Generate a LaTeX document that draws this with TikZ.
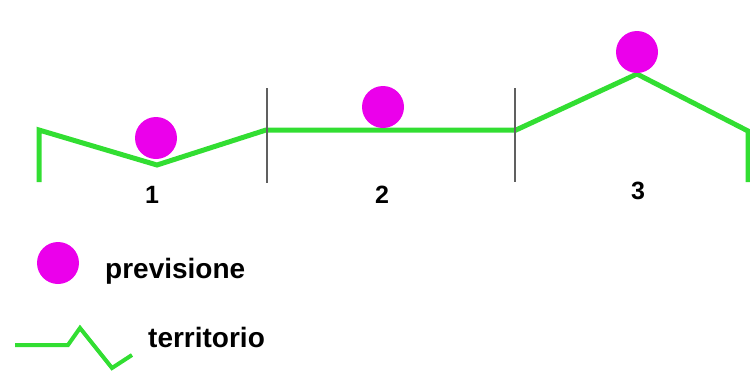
\documentclass[tikz,border=0pt]{standalone}
\usepackage{fontspec}
\setmainfont{Liberation Sans}
\usepackage{xcolor}
\usepackage{tikz}
\usetikzlibrary{positioning}

\definecolor{prevcol}{RGB}{235,0,235}
\definecolor{terrcol}{RGB}{50,222,50}

\begin{document}
\begin{tikzpicture}[
  x=1pt, y=-1pt,
  dot/.style={circle, fill=prevcol, minimum size=42pt, inner sep=0pt},
  terrain/.style={draw=terrcol, line width=5pt, line join=miter},
  divider/.style={draw=gray!75!black, line width=1.6pt},
  num/.style={anchor=base, inner sep=0pt, font=\fontsize{25}{30}\selectfont\bfseries},
  legend/.style={anchor=base west, inner sep=0pt, font=\fontsize{28}{34}\selectfont\bfseries}
]
\useasboundingbox (0,0) rectangle (750,376);

% terrain profile
\coordinate (t0) at (39,182);
\coordinate (t1) at (39,130);
\coordinate (t2) at (157,165);
\coordinate (t3) at (266,130);
\coordinate (t4) at (516,130);
\coordinate (t5) at (637,74);
\coordinate (t6) at (748,131);
\coordinate (t7) at (748,182);
\draw[terrain] (t0) -- (t1) -- (t2) -- (t3) -- (t4) -- (t5) -- (t6) -- (t7);

% zone dividers
\coordinate (d1top) at (267,88);
\coordinate (d1bot) at (267,183);
\coordinate (d2top) at (515,88);
\coordinate (d2bot) at (515,182);
\draw[divider] (d1top) -- (d1bot);
\draw[divider] (d2top) -- (d2bot);

% forecasts
\node[dot] (prev1) at (156,138) {};
\node[dot] (prev2) at (383,107) {};
\node[dot] (prev3) at (637,52) {};

\node[num] (zone1) at (152,203) {1};
\node[num] (zone2) at (382,203) {2};
\node[num] (zone3) at (638,199) {3};

% legend
\node[dot] (keydot) at (58,263) {};
\node[legend] (keyprev) at (105,278) {previsione};
\coordinate (k0) at (15,345);
\coordinate (k1) at (68,345);
\coordinate (k2) at (80,328);
\coordinate (k3) at (112,368);
\coordinate (k4) at (132,355);
\draw[terrain, line width=4pt] (k0) -- (k1) -- (k2) -- (k3) -- (k4);
\node[legend] (keyterr) at (148,347) {territorio};
\end{tikzpicture}
\end{document}
